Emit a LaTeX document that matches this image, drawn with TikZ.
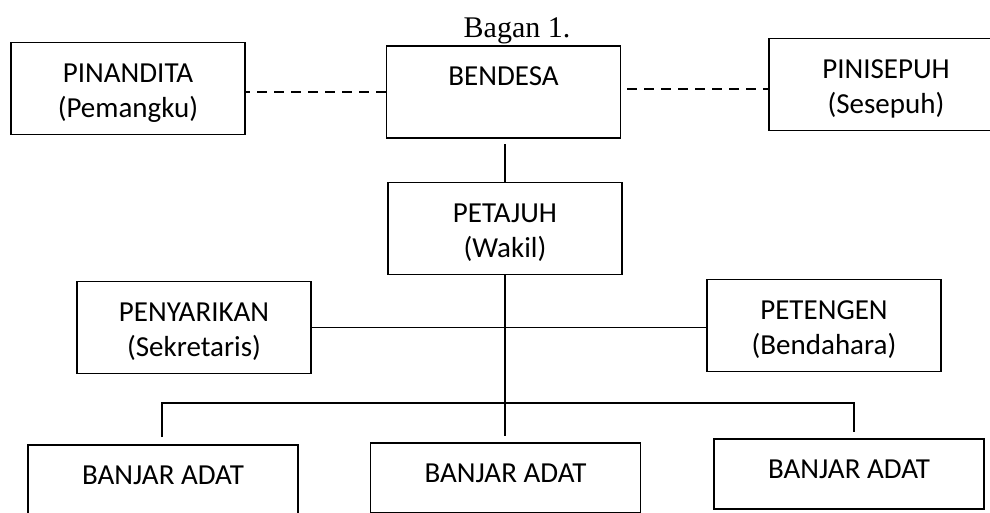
\documentclass[tikz,border=0pt]{standalone}
\usepackage{fontspec}
\setmainfont{Liberation Serif}
\newfontfamily\kotakfont{Carlito}
\usetikzlibrary{positioning}

% isi kotak: teks rata atas, baris pertama 39.5pt di bawah tepi atas
\newcommand{\isikotak}[3]{\parbox[c][#1][t]{#2}{\centering\vspace*{15pt}\strut#3}}

\begin{document}
\begin{tikzpicture}[x=1pt, y=-1pt,
    kotak/.style={draw, line width=1.8pt, inner sep=0pt,
        font=\kotakfont\fontsize{29}{35}\selectfont},
    garis/.style={line width=1.8pt},
    putus/.style={garis, dash pattern=on 10pt off 7pt}]
    % Batas gambar
    \useasboundingbox (0,0) rectangle (990,512);
    \clip (0,0) rectangle (990,512);

    % Judul
    \node[anchor=base, font=\fontsize{30}{36}\selectfont] (judul) at (517,37) {Bagan 1.};

    % Baris atas
    \node[kotak] (pinandita) at (128,88.5) {\isikotak{92pt}{234pt}{PINANDITA\\(Pemangku)}};
    \node[kotak] (bendesa) at (503.5,92) {\isikotak{92pt}{234pt}{BENDESA}};
    \node[kotak] (pinisepuh) at (886,84.5) {\isikotak{92pt}{234pt}{PINISEPUH\\(Sesepuh)}};

    % Wakil, sekretaris, bendahara
    \node[kotak] (petajuh) at (505,228.5) {\isikotak{92pt}{234pt}{PETAJUH\\(Wakil)}};
    \node[kotak] (penyarikan) at (194,327.5) {\isikotak{92pt}{234pt}{PENYARIKAN\\(Sekretaris)}};
    \node[kotak] (petengen) at (824,325.5) {\isikotak{92pt}{234pt}{PETENGEN\\(Bendahara)}};

    % Banjar adat
    \node[kotak] (banjarA) at (163,480) {\isikotak{70pt}{270pt}{BANJAR ADAT}};
    \node[kotak] (banjarB) at (505.5,478) {\isikotak{70pt}{270pt}{BANJAR ADAT}};
    \node[kotak] (banjarC) at (849,474) {\isikotak{70pt}{270pt}{BANJAR ADAT}};

    % Garis putus-putus (koordinasi)
    \draw[putus] (bendesa.west) -- (bendesa.west -| pinandita.east);
    \draw[putus] ([xshift=6pt,yshift=3pt]bendesa.east) -- ([yshift=3pt]bendesa.east -| pinisepuh.west);

    % Garis komando
    \coordinate (simpang) at (505,403);
    \draw[garis] (petajuh.north) -- ([yshift=-5pt]petajuh.north |- bendesa.south);
    \draw[garis] (petajuh.south) -- ([yshift=6pt]petajuh.south |- banjarB.north);
    \draw[garis] (penyarikan.east) -- (penyarikan.east -| petengen.west);
    \draw[garis] ([xshift=-1pt,yshift=7pt]banjarA.north) |- (simpang) -| ([xshift=5pt,yshift=6pt]banjarC.north);
\end{tikzpicture}
\end{document}
